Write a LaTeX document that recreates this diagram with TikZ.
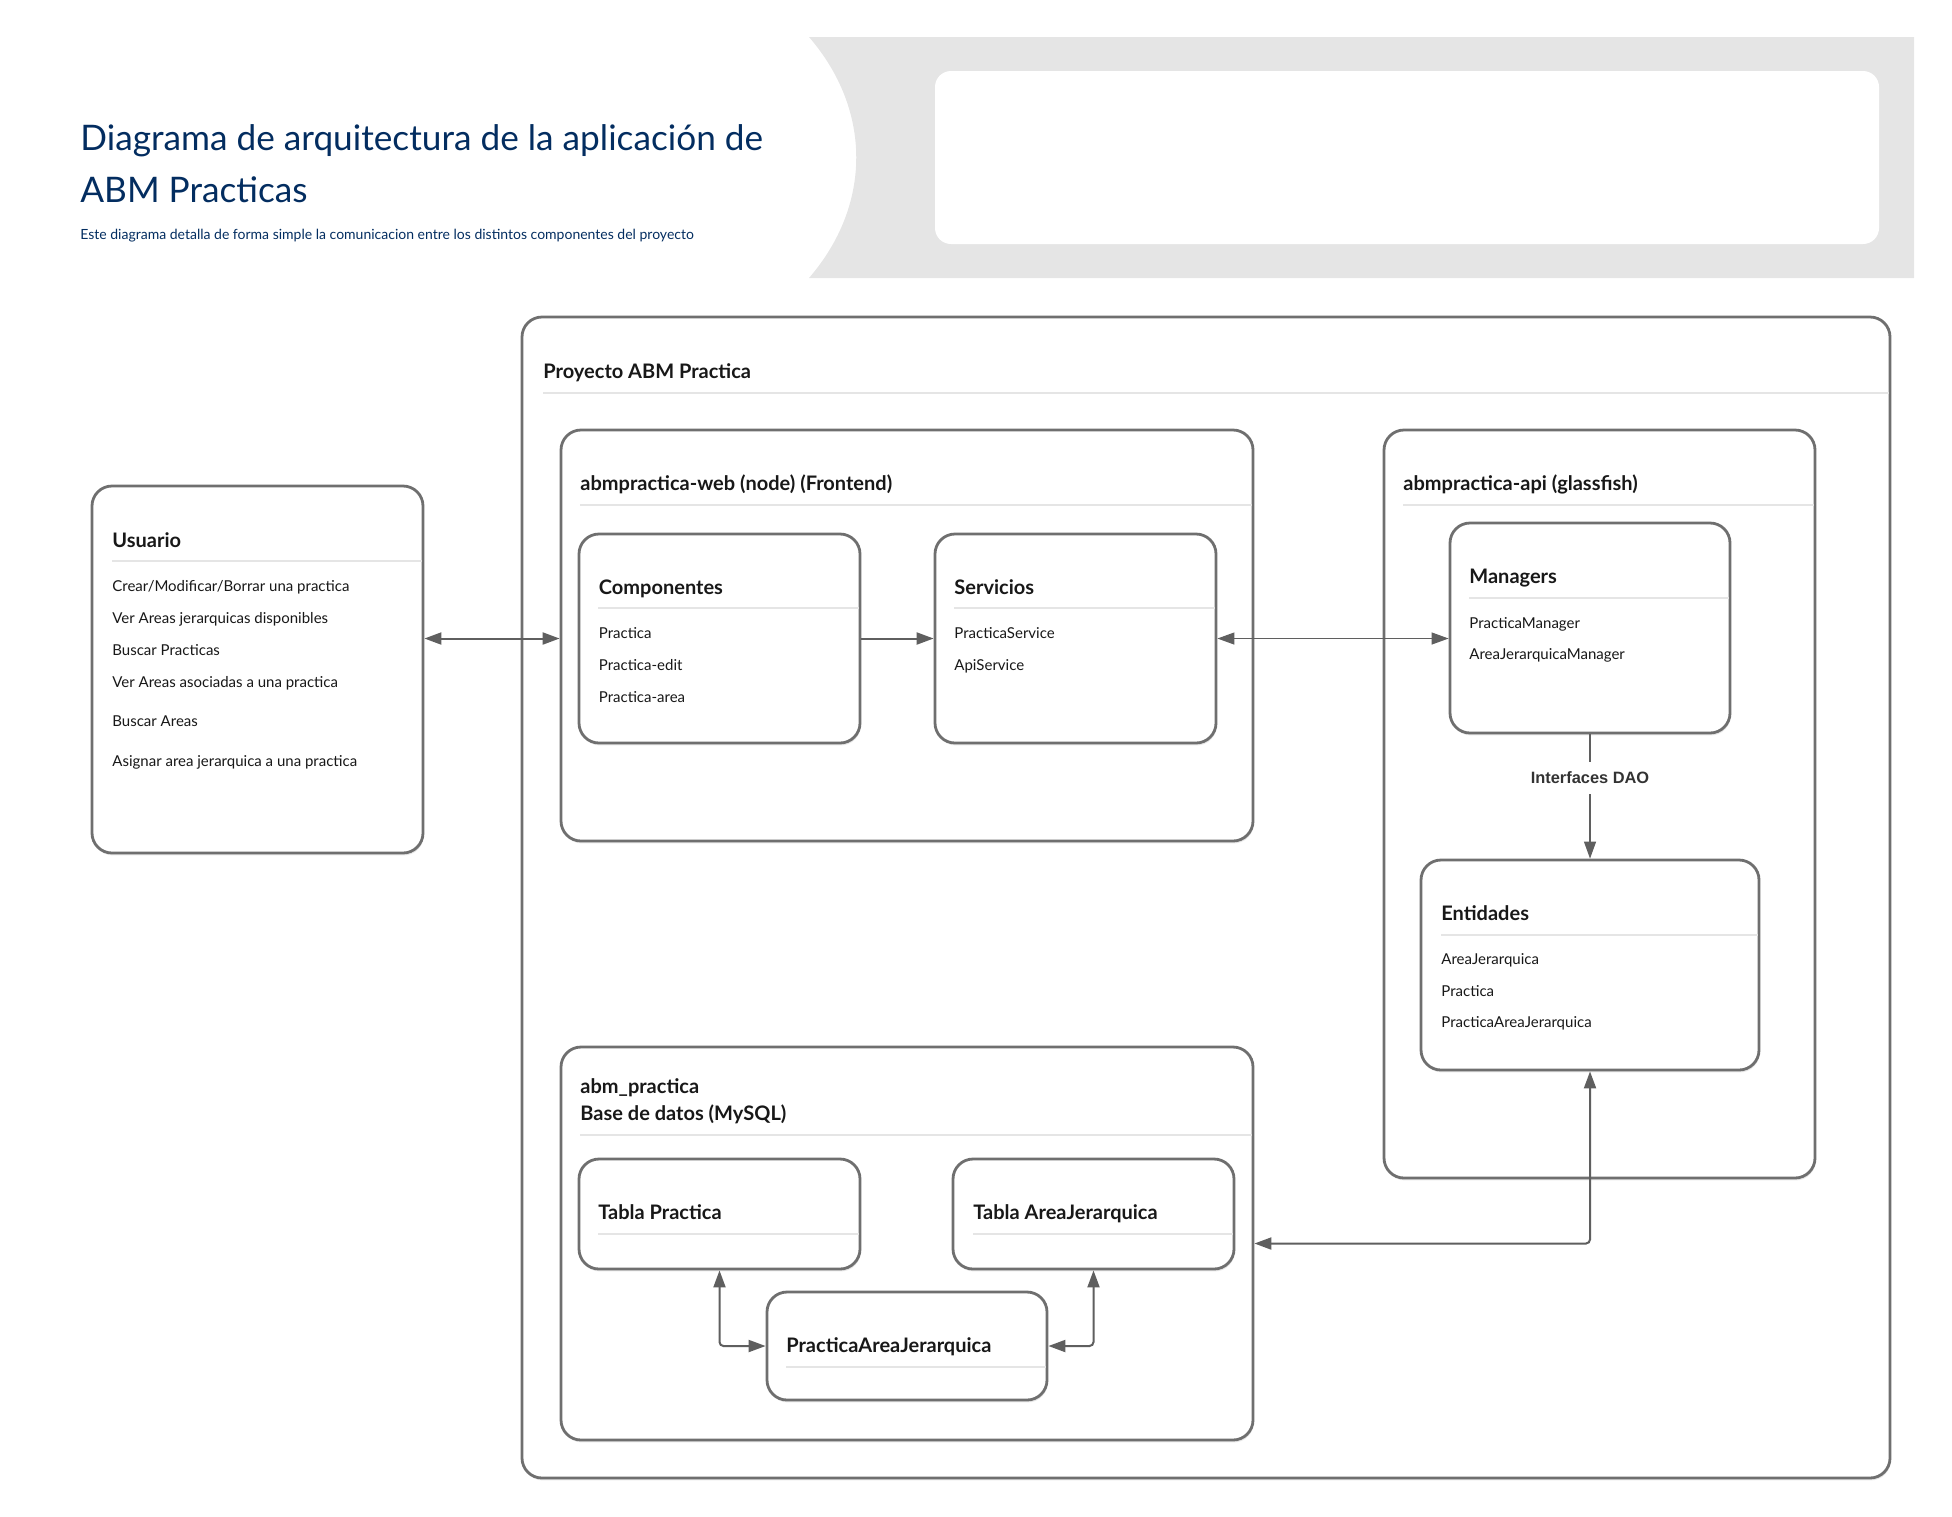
\documentclass[tikz,border=0pt]{standalone}
\usepackage{fontspec}
\setmainfont{Lato}
\newfontfamily\arialf{Liberation Sans}
\usetikzlibrary{arrows.meta,fit,shadows,calc}
\definecolor{navy}{HTML}{032D60}
\definecolor{bord}{HTML}{6F6F6F}
\definecolor{sepc}{HTML}{E5E5E5}
\definecolor{band}{HTML}{E5E5E5}
\definecolor{arr}{HTML}{5F5F5F}
\definecolor{txt}{HTML}{181818}
\tikzset{atip/.tip={Triangle[length=8.5pt,width=6pt]}}
\begin{document}
\begin{tikzpicture}[x=0.5pt,y=-0.5pt,
  boxst/.style={draw=bord, line width=1.4pt, fill=white, rounded corners=10pt, inner sep=0pt,
    drop shadow={shadow xshift=0.4pt, shadow yshift=-1.2pt, opacity=0.18}},
  hd/.style={anchor=base west, inner sep=0pt, font=\fontsize{10}{12}\selectfont\bfseries, text=txt},
  it/.style={anchor=base west, inner sep=0pt, font=\fontsize{7.5}{9}\selectfont, text=txt},
  ttl/.style={anchor=base west, inner sep=0pt, font=\fontsize{17.6}{20}\selectfont, text=navy},
  sepl/.style={draw=sepc, line width=1pt},
  thick conn/.style={draw=arr, line width=1pt},
  thin conn/.style={draw=arr, line width=0.6pt},
]
\useasboundingbox (0,0) rectangle (1952,1516);
% header band
\fill[band] (809,37) .. controls (872,110) and (872,205) .. (809,278) -- (1914,278) -- (1914,37) -- cycle;
\fill[white, rounded corners=8pt] (935,71) rectangle (1879,244);
\node[ttl] (t1) at (80,150) {Diagrama de arquitectura de la aplicación de};
\node[ttl] (t2) at (80,202) {ABM Practicas};
\node[anchor=base west, inner sep=0pt, font=\fontsize{7}{8}\selectfont, text=navy] (t3) at (80,239) {Este diagrama detalla de forma simple la comunicacion entre los distintos componentes del proyecto};

% Usuario
\node[boxst, fit={(92,486) (423,853)}] (usu) {};
\draw[sepl] (112,561) -- (422,561);
\node[hd] at (112,547) {Usuario};
\node[it] at (112,591) {Crear/Modificar/Borrar una practica};
\node[it] at (112,623) {Ver Areas jerarquicas disponibles};
\node[it] at (112,655) {Buscar Practicas};
\node[it] at (112,687) {Ver Areas asociadas a una practica};
\node[it] at (112,726) {Buscar Areas};
\node[it] at (112,766) {Asignar area jerarquica a una practica};

% Proyecto frame
\node[boxst, fit={(522,317) (1890,1478)}] (proy) {};
\draw[sepl] (543,392.5) -- (1889,392.5);
\node[hd] at (543,378) {Proyecto ABM Practica};

% Frontend
\node[boxst, fit={(561,430) (1253,841)}] (front) {};
\draw[sepl] (580,505) -- (1252,505);
\node[hd] at (580,490) {abmpractica-web (node) (Frontend)};

\node[boxst, fit={(579,534) (860,743)}] (comp) {};
\draw[sepl] (598,608) -- (859,608);
\node[hd] at (598.5,594) {Componentes};
\node[it] at (598.5,638) {Practica};
\node[it] at (598.5,670) {Practica-edit};
\node[it] at (598.5,702) {Practica-area};

\node[boxst, fit={(935,534) (1216,743)}] (serv) {};
\draw[sepl] (954,608) -- (1215,608);
\node[hd] at (954,594) {Servicios};
\node[it] at (954,638) {PracticaService};
\node[it] at (954,670) {ApiService};

% API
\node[boxst, fit={(1384,430) (1815,1178)}] (api) {};
\draw[sepl] (1403,505) -- (1814,505);
\node[hd] at (1403,490) {abmpractica-api (glassfish)};

\node[boxst, fit={(1450,523) (1730,733)}] (mgr) {};
\draw[sepl] (1469,598) -- (1729,598);
\node[hd] at (1469,583) {Managers};
\node[it] at (1469,628) {PracticaManager};
\node[it] at (1469,659) {AreaJerarquicaManager};

\node[boxst, fit={(1421,860) (1759,1070)}] (ent) {};
\draw[sepl] (1441,935) -- (1758,935);
\node[hd] at (1441,920) {Entidades};
\node[it] at (1441,964) {AreaJerarquica};
\node[it] at (1441,996) {Practica};
\node[it] at (1441,1027) {PracticaAreaJerarquica};

% DB
\node[boxst, fit={(561,1047) (1253,1440)}] (db) {};
\draw[sepl] (580,1135) -- (1252,1135);
\node[hd] at (580,1093) {abm\_practica};
\node[hd] at (580,1120) {Base de datos (MySQL)};

\node[boxst, fit={(579,1159) (860,1269)}] (tp) {};
\draw[sepl] (598,1234) -- (859,1234);
\node[hd] at (598,1219) {Tabla Practica};

\node[boxst, fit={(953,1159) (1234,1269)}] (ta) {};
\draw[sepl] (973,1234) -- (1233,1234);
\node[hd] at (973,1219) {Tabla AreaJerarquica};

\node[boxst, fit={(767,1292) (1047,1400)}] (paj) {};
\draw[sepl] (786,1367) -- (1046,1367);
\node[hd] at (786,1352) {PracticaAreaJerarquica};

% connectors
\draw[thick conn, atip-atip] (usu.east |- comp.east) -- (front.west |- comp.east);
\draw[thick conn, -atip] (comp.east) -- (serv.west);
\draw[thin conn, atip-atip] (serv.east) -- (serv.east -| mgr.west);
\draw[thin conn, -atip] (mgr.south) -- node[pos=0.35, fill=white, inner xsep=2pt, inner ysep=5pt, font=\arialf\fontsize{8.2}{10}\selectfont\bfseries, text=black!80] {Interfaces DAO} (ent.north);
\draw[thick conn, rounded corners=2pt, atip-atip] (ent.south) |- (db.east);
\draw[thick conn, rounded corners=2pt, atip-atip] (tp.south) |- (paj.west);
\draw[thick conn, rounded corners=2pt, atip-atip] (ta.south) |- (paj.east);
\end{tikzpicture}
\end{document}
